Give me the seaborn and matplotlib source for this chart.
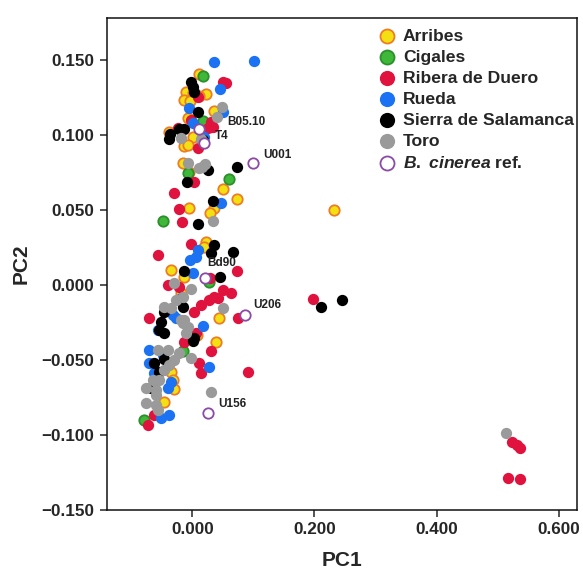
import pandas as pd
import seaborn as sns
import matplotlib.pyplot as plt

# PCA scores (PC1, PC2) for each region
arribes_pc1 = [0.0106, -0.0106, 0.0008, 0.0221, 0.0106, -0.0139, -0.0041, 0.0351, -0.0074, -0.0384,
               0.0008, -0.0139, -0.0074, -0.0155, -0.0057, 0.0498, 0.0727, 0.0351, 0.0286, -0.0057,
               0.2328, 0.0221, 0.0188, -0.0351, -0.0139, -0.0188, 0.0433, 0.0074, 0.0384, -0.0351,
               -0.0319, -0.0302, -0.0466]
arribes_pc2 = [0.1407, 0.1287, 0.1280, 0.1273, 0.1260, 0.1233, 0.1227, 0.1160, 0.1113, 0.1020,
               0.0987, 0.0927, 0.0933, 0.0813, 0.0753, 0.0640, 0.0573, 0.0513, 0.0480, 0.0513,
               0.0500, 0.0287, 0.0253, 0.0100, 0.0053, -0.0053, -0.0220, -0.0333, -0.0380, -0.0580,
               -0.0633, -0.0693, -0.0780]

cigales_pc1 = [0.0172, 0.0172, -0.0074, 0.0596, -0.0482, 0.0270, -0.0155, -0.0793]
cigales_pc2 = [0.1393, 0.1093, 0.0747, 0.0707, 0.0427, 0.0020, -0.0440, -0.0900]

ribera_pc1 = [0.0498, 0.0547, 0.0090, -0.0025, 0.0302, 0.0253, 0.0335, -0.0237, 0.0090, 0.0025,
              -0.0302, -0.0221, -0.0172, -0.0025, -0.0564, 0.0727, 0.0286, -0.0400, -0.0221, 0.0498,
              0.0629, 0.0351, 0.0270, 0.0417, 0.0139, 0.0025, -0.0711, 0.0743, -0.0139, 0.0057,
              0.0302, 0.0106, 0.0139, 0.0907, -0.0629, -0.0727, 0.1969, 0.5237, 0.5319, 0.5368,
              0.5172, 0.5368]
ribera_pc2 = [0.1353, 0.1347, 0.1253, 0.1100, 0.1087, 0.1047, 0.1053, 0.1047, 0.0913, 0.0687,
              0.0613, 0.0507, 0.0420, 0.0273, 0.0200, 0.0093, 0.0047, 0.0000, -0.0013, -0.0033,
              -0.0053, -0.0080, -0.0100, -0.0087, -0.0133, -0.0180, -0.0220, -0.0220, -0.0380, -0.0320,
              -0.0440, -0.0520, -0.0587, -0.0580, -0.0867, -0.0933, -0.0093, -0.1047, -0.1067, -0.1087,
              -0.1287, -0.1293]

rueda_pc1 = [0.0351, 0.1005, 0.0449, -0.0057, 0.0498, 0.0008, 0.0188, 0.0466, 0.0090, 0.0057,
             -0.0041, 0.0008, -0.0188, -0.0319, -0.0270, 0.0172, -0.0564, -0.0711, -0.0482, -0.0711,
             0.0270, -0.0629, -0.0351, -0.0400, -0.0384, -0.0515]
rueda_pc2 = [0.1487, 0.1493, 0.1307, 0.1180, 0.1153, 0.1080, 0.0987, 0.0547, 0.0233, 0.0187,
             0.0167, 0.0080, -0.0087, -0.0200, -0.0220, -0.0273, -0.0300, -0.0433, -0.0467, -0.0520,
             -0.0547, -0.0587, -0.0647, -0.0687, -0.0867, -0.0887]

sierra_pc1 = [-0.0025, 0.0008, 0.0025, 0.0090, -0.0139, -0.0221, -0.0368, -0.0384, 0.0172, 0.0253,
              0.0727, -0.0090, 0.0335, 0.0090, 0.0351, 0.0302, 0.0662, -0.0139, 0.0449, -0.0155,
              -0.0466, -0.0515, -0.0547, -0.0466, 0.0025, 0.0008, -0.0466, -0.0629, -0.0547, -0.0629,
              -0.0678, 0.2100, 0.2459]
sierra_pc2 = [0.1353, 0.1320, 0.1287, 0.1153, 0.1040, 0.1040, 0.1007, 0.0973, 0.0967, 0.0767,
              0.0787, 0.0687, 0.0560, 0.0407, 0.0267, 0.0213, 0.0220, 0.0093, 0.0053, -0.0147,
              -0.0180, -0.0247, -0.0300, -0.0320, -0.0353, -0.0373, -0.0493, -0.0520, -0.0580, -0.0653,
              -0.0687, -0.0147, -0.0100]

toro_pc1 = [0.0482, 0.0400, -0.0188, 0.0139, -0.0074, 0.0106, 0.0204, 0.0155, 0.0335, -0.0302,
            -0.0025, -0.0155, -0.0270, -0.0466, -0.0351, 0.0498, -0.0139, -0.0074, -0.0188, -0.0155,
            -0.0106, -0.0564, -0.0400, -0.0221, -0.0025, -0.0302, -0.0384, -0.0466, -0.0645, -0.0547,
            -0.0760, -0.0596, -0.0596, 0.0302, -0.0760, -0.0596, -0.0564, 0.5139]
toro_pc2 = [0.1187, 0.1120, 0.0980, 0.0973, 0.0813, 0.0780, 0.0807, 0.0787, 0.0427, 0.0013,
            -0.0027, -0.0080, -0.0100, -0.0147, -0.0153, -0.0153, -0.0233, -0.0280, -0.0233, -0.0253,
            -0.0320, -0.0433, -0.0433, -0.0453, -0.0487, -0.0500, -0.0533, -0.0567, -0.0633, -0.0633,
            -0.0687, -0.0700, -0.0733, -0.0713, -0.0787, -0.0800, -0.0833, -0.0987]

# B. cinerea reference strains
ref_names = ['B05.10', 'T4', 'U001', 'Bd90', 'U206', 'U156']
ref_pc1 = [0.0106, 0.0188, 0.0989, 0.0204, 0.0858, 0.0253]
ref_pc2 = [0.1040, 0.0947, 0.0813, 0.0047, -0.0200, -0.0853]
ref_text_pc1 = [0.0564, 0.0368, 0.1168, 0.0237, 0.0989, 0.0417]
ref_text_pc2 = [0.1087, 0.0993, 0.0867, 0.0147, -0.0133, -0.0793]

groups = ['Arribes', 'Cigales', 'Ribera de Duero', 'Rueda', 'Sierra de Salamanca', 'Toro', 'ref']
pc1_lists = [arribes_pc1, cigales_pc1, ribera_pc1, rueda_pc1, sierra_pc1, toro_pc1, ref_pc1]
pc2_lists = [arribes_pc2, cigales_pc2, ribera_pc2, rueda_pc2, sierra_pc2, toro_pc2, ref_pc2]

frames = []
for g, a, b in zip(groups, pc1_lists, pc2_lists):
    frames.append(pd.DataFrame({'PC1': a, 'PC2': b, 'group': g}))
df = pd.concat(frames, ignore_index=True)

# fill, edge, edge width, legend label
styles = {
    'Arribes': ('#f3e012', '#f07b26', 1.3, 'Arribes'),
    'Cigales': ('#3fb83a', '#2b8f2b', 1.3, 'Cigales'),
    'Ribera de Duero': ('#e0123e', '#e0123e', 0.0, 'Ribera de Duero'),
    'Rueda': ('#1b72f2', '#1b72f2', 0.0, 'Rueda'),
    'Sierra de Salamanca': ('#000000', '#000000', 0.0, 'Sierra de Salamanca'),
    'Toro': ('#9a9a9a', '#9a9a9a', 0.0, 'Toro'),
    'ref': ('#ffffff', '#8a4aa6', 1.3, r'$\mathit{B.}$ $\mathit{cinerea}$ ref.'),
}

sns.set_style('white')
plt.rcParams['font.family'] = ['Liberation Sans', 'DejaVu Sans']
plt.rcParams['font.weight'] = 'bold'
plt.rcParams['axes.labelweight'] = 'bold'
plt.rcParams['mathtext.fontset'] = 'custom'
plt.rcParams['mathtext.it'] = 'Liberation Sans:italic:bold'
plt.rcParams['mathtext.rm'] = 'Liberation Sans:bold'

fig = plt.figure(figsize=(5.83, 5.72), dpi=100)
ax = fig.add_axes([0.1835, 0.1084, 0.806, 0.86])

for g in groups:
    fill, edge, lw, lab = styles[g]
    sub = df[df['group'] == g]
    size = 56 if lw > 0 else 66
    sns.scatterplot(data=sub, x='PC1', y='PC2', color=fill, edgecolor=edge,
                    linewidth=lw, s=size, label=lab, ax=ax, zorder=3)

# strain labels
for name, tx, ty in zip(ref_names, ref_text_pc1, ref_text_pc2):
    ax.text(tx, ty, name, fontsize=8.5, fontweight='bold', color='#222222',
            ha='left', va='center', zorder=4)

ax.set_xlim(-0.140, 0.630)
ax.set_ylim(-0.150, 0.178)
ax.set_xticks([0.0, 0.2, 0.4, 0.6])
ax.set_yticks([-0.15, -0.10, -0.05, 0.0, 0.05, 0.10, 0.15])
fmt = plt.FuncFormatter(lambda v, p: ('%.3f' % v).replace('-', '\u2212'))
ax.xaxis.set_major_formatter(fmt)
ax.yaxis.set_major_formatter(fmt)
ax.tick_params(axis='both', which='major', labelsize=12.3, direction='out',
               length=5, width=1.1, pad=4, bottom=True, left=True, top=False, right=False)
for sp in ax.spines.values():
    sp.set_linewidth(1.1)
    sp.set_color('#111111')

ax.set_xlabel('PC1', fontsize=15, labelpad=10)
ax.set_ylabel('PC2', fontsize=15, labelpad=8)

ax.legend(loc='upper left', bbox_to_anchor=(0.562, 0.993), frameon=False,
          prop={'weight': 'bold', 'size': 12.6}, markerscale=1.35, handlelength=1.0,
          handletextpad=0.42, labelspacing=0.33, borderaxespad=0.0)

plt.savefig('out.png', dpi=100)
